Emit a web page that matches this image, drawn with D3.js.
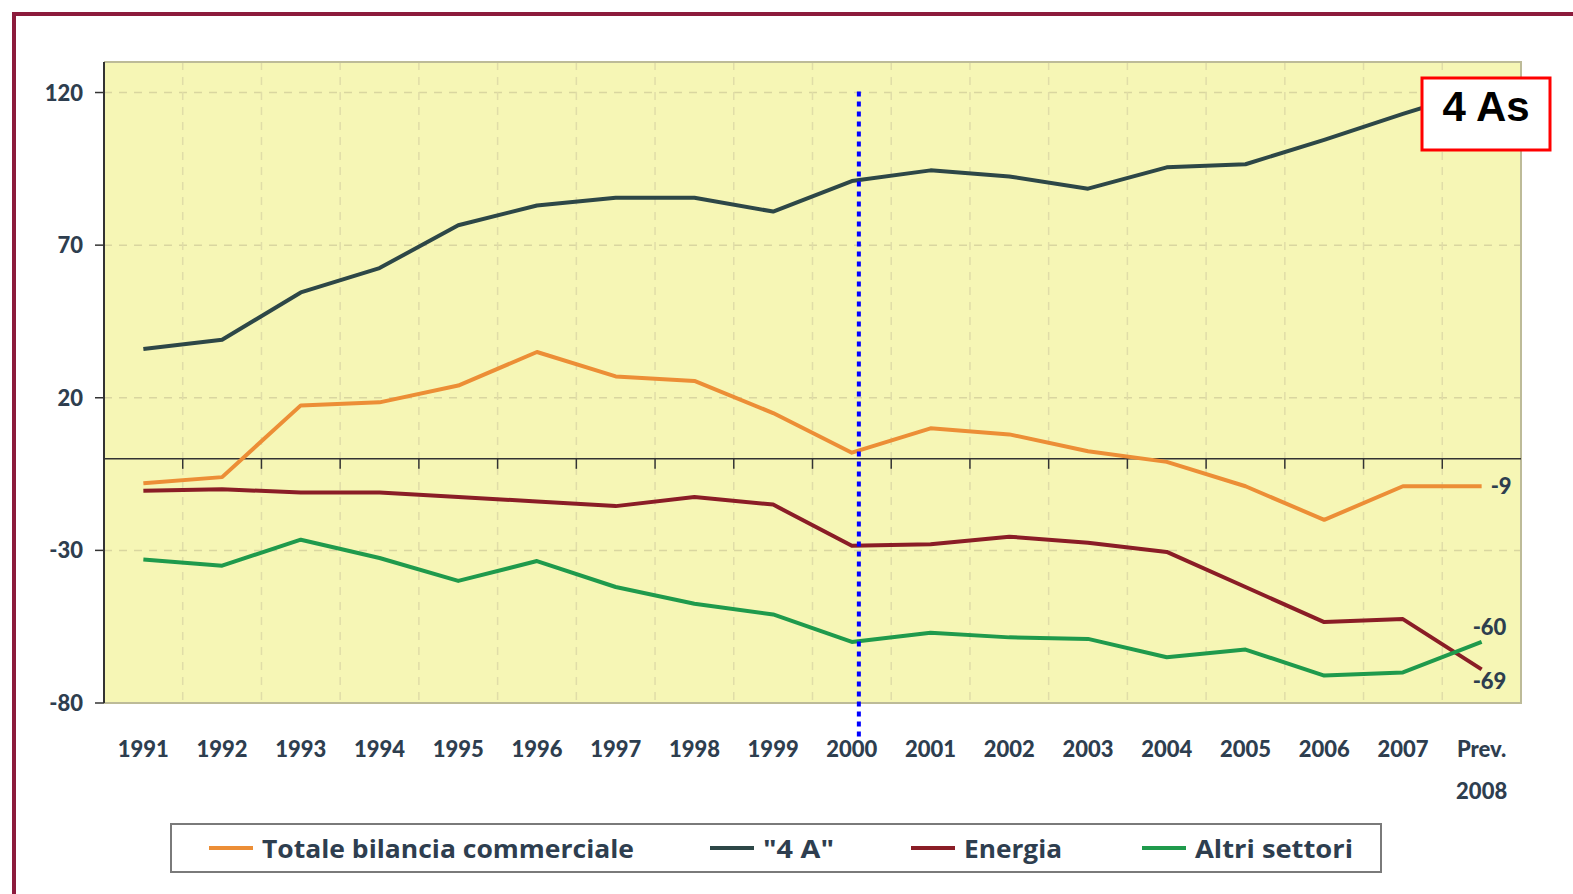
<!DOCTYPE html>
<html>
<head>
<meta charset="utf-8">
<script src="https://cdn.jsdelivr.net/npm/d3@7"></script>
<style>
    body { margin: 0; background: #fff; }
    text { font-family: Lato, "Open Sans", sans-serif; font-weight: 900; fill: #2e3e4f; }
</style>
</head>
<body>
<svg id="chart" width="1573" height="894"></svg>
<script>
// Categories on the x axis
var years = ["1991", "1992", "1993", "1994", "1995", "1996", "1997", "1998", "1999",
             "2000", "2001", "2002", "2003", "2004", "2005", "2006", "2007", "Prev. 2008"];

// Y axis ticks
var yTicks = [120, 70, 20, -30, -80];

// Series values (billions of euro)
var totale    = [-8, -6, 17.5, 18.5, 24, 35, 27, 25.5, 15, 2, 10, 8, 2.5, -1, -9, -20, -9, -9];
var quattroA  = [36, 39, 54.5, 62.5, 76.5, 83, 85.5, 85.5, 81, 91, 94.5, 92.5, 88.5, 95.5, 96.5, 104.5, 113, 121];
var energia   = [-10.5, -10, -11, -11, -12.5, -14, -15.5, -12.5, -15, -28.5, -28, -25.5, -27.5, -30.5, -42, -53.5, -52.5, -69];
var altri     = [-33, -35, -26.5, -32.5, -40, -33.5, -42, -47.5, -51, -60, -57, -58.5, -59, -65, -62.5, -71, -70, -60];

// Legend labels
var legendLabels = ["Totale bilancia commerciale", "\"4 A\"", "Energia", "Altri settori"];

// Value labels at the end of some series
var endLabels = ["-9", "-60", "-69"];

var series = [
    { name: legendLabels[0], values: totale,   color: "#ec8e36" },
    { name: legendLabels[1], values: quattroA, color: "#2d4747" },
    { name: legendLabels[2], values: energia,  color: "#8a1d26" },
    { name: legendLabels[3], values: altri,    color: "#1f9a4c" }
];

(function () {
    var svg = d3.select("#chart");

    // Plot area
    var pLeft = 104, pRight = 1521, pTop = 62, pBottom = 703;

    var x = d3.scaleBand().domain(years).range([pLeft, pRight]);
    var y = d3.scaleLinear().domain([-80, 130]).range([pBottom, pTop]);
    var bw = x.bandwidth();
    var cx = function (d) { return x(d) + bw / 2; };

    // Outer frame (only left and top edges are visible)
    svg.append("path")
        .attr("d", "M14,894 L14,14 L1573,14")
        .attr("fill", "none")
        .attr("stroke", "#8c1b3c")
        .attr("stroke-width", 4);

    // Background of the plot
    svg.append("rect")
        .attr("x", pLeft).attr("y", pTop)
        .attr("width", pRight - pLeft).attr("height", pBottom - pTop)
        .attr("fill", "#f6f6b5");

    // Horizontal dashed grid
    svg.append("g").selectAll("line")
        .data(yTicks.filter(function (d) { return d > -80; }))
        .enter().append("line")
        .attr("x1", pLeft).attr("x2", pRight)
        .attr("y1", function (d) { return y(d); })
        .attr("y2", function (d) { return y(d); })
        .attr("stroke", "#d9d6a0")
        .attr("stroke-width", 1.5)
        .attr("stroke-dasharray", "8,7");

    // Vertical dashed grid at the category boundaries
    svg.append("g").selectAll("line")
        .data(years.slice(1))
        .enter().append("line")
        .attr("x1", function (d) { return x(d); })
        .attr("x2", function (d) { return x(d); })
        .attr("y1", pTop).attr("y2", pBottom)
        .attr("stroke", "#e0dda8")
        .attr("stroke-width", 1.5)
        .attr("stroke-dasharray", "8,7");

    // Plot frame: top, right, bottom
    svg.append("path")
        .attr("d", "M" + pLeft + "," + pTop + " L" + pRight + "," + pTop + " L" + pRight + "," + pBottom + " L" + pLeft + "," + pBottom)
        .attr("fill", "none")
        .attr("stroke", "#bdbb98")
        .attr("stroke-width", 2);

    // Left axis line and ticks
    svg.append("line")
        .attr("x1", pLeft).attr("x2", pLeft)
        .attr("y1", pTop).attr("y2", pBottom)
        .attr("stroke", "#333")
        .attr("stroke-width", 2);

    var yAxis = svg.append("g");
    yAxis.selectAll("line")
        .data(yTicks)
        .enter().append("line")
        .attr("x1", pLeft - 9).attr("x2", pLeft)
        .attr("y1", function (d) { return y(d); })
        .attr("y2", function (d) { return y(d); })
        .attr("stroke", "#333")
        .attr("stroke-width", 1.5);
    yAxis.selectAll("text")
        .data(yTicks)
        .enter().append("text")
        .attr("x", pLeft - 21)
        .attr("y", function (d) { return y(d) + 8; })
        .attr("text-anchor", "end")
        .style("font-size", "22px")
        .text(function (d) { return d; });

    // Zero line with its category ticks
    svg.append("line")
        .attr("x1", pLeft).attr("x2", pRight)
        .attr("y1", y(0)).attr("y2", y(0))
        .attr("stroke", "#333")
        .attr("stroke-width", 1.5);
    svg.append("g").selectAll("line")
        .data(years.slice(1))
        .enter().append("line")
        .attr("x1", function (d) { return x(d); })
        .attr("x2", function (d) { return x(d); })
        .attr("y1", y(0)).attr("y2", y(0) + 10)
        .attr("stroke", "#333")
        .attr("stroke-width", 1.5);

    // X labels, the last one on two rows
    var xLabels = svg.append("g").selectAll("text")
        .data(years)
        .enter().append("text")
        .attr("text-anchor", "middle")
        .style("font-size", "22px");
    xLabels.each(function (d) {
        var parts = d.split(" ");
        var t = d3.select(this);
        parts.forEach(function (p, i) {
            t.append("tspan")
                .attr("x", cx(d))
                .attr("y", 757 + i * 42)
                .text(p);
        });
    });

    // Series lines
    var line = d3.line()
        .x(function (d, i) { return cx(years[i]); })
        .y(function (d) { return y(d); });

    svg.append("g").selectAll("path")
        .data(series)
        .enter().append("path")
        .attr("d", function (s) { return line(s.values); })
        .attr("fill", "none")
        .attr("stroke", function (s) { return s.color; })
        .attr("stroke-width", 4)
        .attr("stroke-linejoin", "round");

    // End labels
    var last = cx(years[years.length - 1]);
    svg.append("text")
        .attr("x", last + 9).attr("y", y(totale[totale.length - 1]) + 8)
        .style("font-size", "22px")
        .text(endLabels[0]);
    svg.append("text")
        .attr("x", last - 9).attr("y", y(altri[altri.length - 1]) - 7)
        .style("font-size", "22px")
        .text(endLabels[1]);
    svg.append("text")
        .attr("x", last - 9).attr("y", y(energia[energia.length - 1]) + 20)
        .style("font-size", "22px")
        .text(endLabels[2]);

    // Blue dotted marker at 2000
    var markX = cx("2000") + 7;
    svg.append("line")
        .attr("x1", markX).attr("x2", markX)
        .attr("y1", y(120) - 1).attr("y2", 737)
        .attr("stroke", "#0000ff")
        .attr("stroke-width", 4)
        .attr("stroke-dasharray", "5,5");

    // "4 As" callout box
    svg.append("rect")
        .attr("x", 1422).attr("y", 78)
        .attr("width", 128).attr("height", 72)
        .attr("fill", "#fff")
        .attr("stroke", "#ff0000")
        .attr("stroke-width", 3);
    svg.append("text")
        .attr("x", 1486).attr("y", 121)
        .attr("text-anchor", "middle")
        .style("font-family", "'Liberation Sans', Arial, sans-serif")
        .style("font-weight", "bold")
        .style("font-size", "42px")
        .style("fill", "#000")
        .text("4 As");

    // Legend
    var legend = svg.append("g");
    legend.append("rect")
        .attr("x", 171).attr("y", 824)
        .attr("width", 1210).attr("height", 48)
        .attr("fill", "#fff")
        .attr("stroke", "#7a7a7a")
        .attr("stroke-width", 2);

    var legendX = [209, 710, 911, 1142];
    var legendW = [372, 71, 98, 158];
    var items = legend.selectAll("g.item")
        .data(series)
        .enter().append("g")
        .attr("class", "item")
        .attr("transform", function (d, i) { return "translate(" + legendX[i] + ",848)"; });
    items.append("line")
        .attr("x1", 0).attr("x2", 44)
        .attr("stroke", function (d) { return d.color; })
        .attr("stroke-width", 4);
    items.append("text")
        .attr("x", 53).attr("y", 10)
        .attr("textLength", function (d, i) { return legendW[i]; })
        .attr("lengthAdjust", "spacingAndGlyphs")
        .style("font-family", "'Open Sans', sans-serif")
        .style("font-weight", "bold")
        .style("font-size", "25px")
        .text(function (d) { return d.name; });
})();
</script>
</body>
</html>
